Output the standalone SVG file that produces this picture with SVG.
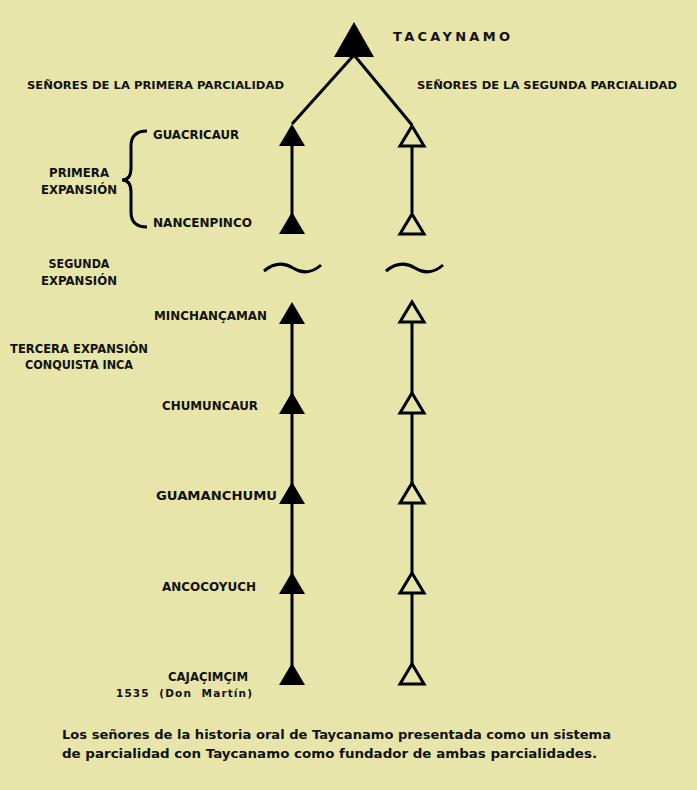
<svg xmlns="http://www.w3.org/2000/svg" width="697" height="790" viewBox="0 0 697 790">
<style>
.t{font-family:"DejaVu Sans","Liberation Sans",Arial,sans-serif;font-weight:bold;fill:#111;}
.h{font-size:11px;}
.n{font-size:12px;}
.c{font-size:13px;}
.ln{stroke:#000;stroke-width:3;fill:none;}
.f{fill:#000;}
.o{fill:#e7e5aa;stroke:#000;stroke-width:3;stroke-linejoin:miter;}
</style>
<defs>
<path id="tf" d="M0,-11 L13,11 L-13,11 Z"/>
<path id="to" d="M0,-10 L12,10 L-12,10 Z"/>
</defs>
<rect width="697" height="790" fill="#e7e5aa"/>
<g id="connectors">
<line class="ln" x1="354" y1="55" x2="292" y2="124" stroke-width="2.5"/>
<line class="ln" x1="354" y1="55" x2="412" y2="125" stroke-width="2.5"/>
<line class="ln" x1="292" y1="135" x2="292" y2="225"/>
<line class="ln" x1="292" y1="312" x2="292" y2="675"/>
<line class="ln" x1="412" y1="146" x2="412" y2="213"/>
<line class="ln" x1="412" y1="323" x2="412" y2="393"/>
<line class="ln" x1="412" y1="414" x2="412" y2="483"/>
<line class="ln" x1="412" y1="504" x2="412" y2="573"/>
<line class="ln" x1="412" y1="594" x2="412" y2="664"/>
<path class="ln" stroke-width="2.5" d="M264,271 C275,262 285,263 293,268 C301,273 311,274 321,265"/>
<path class="ln" stroke-width="2.5" d="M386,271 C397,262 407,263 415,268 C423,273 433,274 443,265"/>
<path class="ln" stroke-width="2" d="M147,131 Q131,131 131,146 L131,168 Q131,180 122,180 Q131,180 131,192 L131,212 Q131,227 147,227"/>
</g>
<g id="tacaynamo">
<path class="f" d="M354,22 L374,57 L334,57 Z"/>
<text class="t" x="393" y="41" font-size="13" textLength="117" lengthAdjust="spacing">TACAYNAMO</text>
</g>
<g id="headers">
<text class="t h" x="27" y="89" textLength="257" lengthAdjust="spacingAndGlyphs">SEÑORES DE LA PRIMERA PARCIALIDAD</text>
<text class="t h" x="417" y="89" textLength="260" lengthAdjust="spacingAndGlyphs">SEÑORES DE LA SEGUNDA PARCIALIDAD</text>
</g>
<g id="guacricaur">
<use href="#tf" x="292" y="135"/>
<use href="#to" x="412" y="136" class="o"/>
<text class="t n" x="153" y="139" textLength="86" lengthAdjust="spacingAndGlyphs">GUACRICAUR</text>
</g>
<g id="primera-expansion">
<text class="t n" x="79" y="177" text-anchor="middle" textLength="60" lengthAdjust="spacingAndGlyphs">PRIMERA</text>
<text class="t n" x="79" y="194" text-anchor="middle" textLength="76" lengthAdjust="spacingAndGlyphs">EXPANSIÓN</text>
</g>
<g id="nancenpinco">
<use href="#tf" x="292" y="223"/>
<use href="#to" x="412" y="224" class="o"/>
<text class="t n" x="153" y="227" textLength="99" lengthAdjust="spacingAndGlyphs">NANCENPINCO</text>
</g>
<g id="segunda-expansion">
<text class="t n" x="79" y="268" text-anchor="middle" textLength="61" lengthAdjust="spacingAndGlyphs">SEGUNDA</text>
<text class="t n" x="79" y="285" text-anchor="middle" textLength="76" lengthAdjust="spacingAndGlyphs">EXPANSIÓN</text>
</g>
<g id="minchancaman">
<use href="#tf" x="292" y="313"/>
<use href="#to" x="412" y="312" class="o"/>
<text class="t n" x="154" y="320" textLength="113" lengthAdjust="spacingAndGlyphs">MINCHANÇAMAN</text>
</g>
<g id="tercera-expansion">
<text class="t n" x="79" y="353" text-anchor="middle" textLength="138" lengthAdjust="spacingAndGlyphs">TERCERA EXPANSIÓN</text>
<text class="t n" x="79" y="369" text-anchor="middle" textLength="108" lengthAdjust="spacingAndGlyphs">CONQUISTA INCA</text>
</g>
<g id="chumuncaur">
<use href="#tf" x="292" y="403"/>
<use href="#to" x="412" y="403" class="o"/>
<text class="t n" x="162" y="410" textLength="96" lengthAdjust="spacingAndGlyphs">CHUMUNCAUR</text>
</g>
<g id="guamanchumu">
<use href="#tf" x="292" y="493"/>
<use href="#to" x="412" y="493" class="o"/>
<text class="t n" x="156" y="500" textLength="121" lengthAdjust="spacingAndGlyphs">GUAMANCHUMU</text>
</g>
<g id="ancocoyuch">
<use href="#tf" x="292" y="583"/>
<use href="#to" x="412" y="583" class="o"/>
<text class="t n" x="162" y="591" textLength="94" lengthAdjust="spacingAndGlyphs">ANCOCOYUCH</text>
</g>
<g id="cajacimcim">
<use href="#tf" x="292" y="674"/>
<use href="#to" x="412" y="674" class="o"/>
<text class="t n" x="168" y="681" textLength="80" lengthAdjust="spacingAndGlyphs">CAJAÇIMÇIM</text>
<text class="t" font-size="10.5" x="116" y="697" textLength="136" lengthAdjust="spacing" xml:space="preserve">1535  (Don  Martín)</text>
</g>
<g id="caption">
<text class="t c" x="62" y="739" textLength="549" lengthAdjust="spacingAndGlyphs">Los señores de la historia oral de Taycanamo presentada como un sistema</text>
<text class="t c" x="62" y="758" textLength="535" lengthAdjust="spacingAndGlyphs">de parcialidad con Taycanamo como fundador de ambas parcialidades.</text>
</g>
</svg>
